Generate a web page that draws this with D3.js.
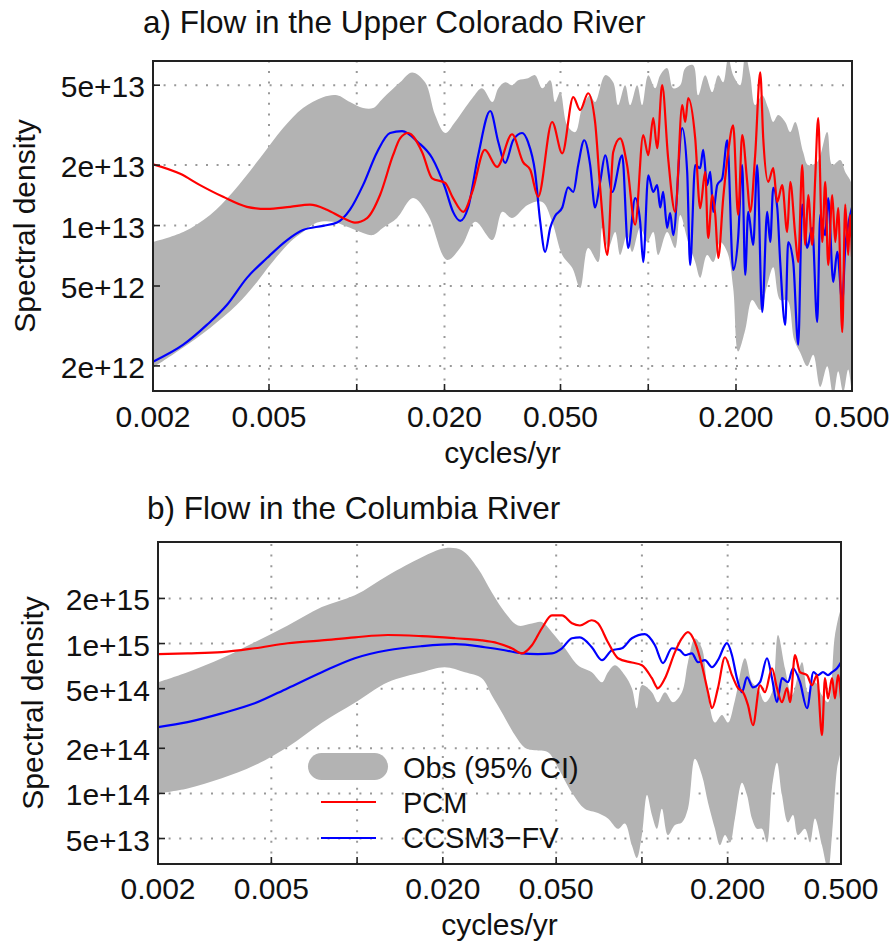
<!DOCTYPE html>
<html>
<head>
<meta charset="utf-8">
<script src="https://cdn.jsdelivr.net/npm/d3@7"></script>
<style>
  body { margin: 0; background: #fff; }
  svg text { font-family: "Liberation Sans", Arial, sans-serif; fill: #111; }
</style>
</head>
<body>
<svg id="chart" width="894" height="947"></svg>
<script>
// shared frequency axis (cycles/yr)
var xTicks = [0.002, 0.005, 0.01, 0.02, 0.05, 0.1, 0.2, 0.5];
var xTickLabels = ["0.002", "0.005", "", "0.020", "0.050", "", "0.200", "0.500"];

// a) Upper Colorado -- spectral density given in units of 1e12
var coloradoUnit = 1e12;
var coloradoYTicks = [2, 5, 10, 20, 50];
var coloradoYLabels = ["2e+12", "5e+12", "1e+13", "2e+13", "5e+13"];

var coloradoUpper = [[0.00200,8.28],[0.00254,9.29],[0.00314,11.3],[0.00376,14.7],[0.00466,21.7],[0.00559,30.6],[0.00654,38.5],[0.00766,43.6],[0.00856,44.6],[0.00948,41.2],[0.01051,38.5],[0.01138,38.5],[0.01231,43.1],[0.01408,51.7],[0.01548,57.9],[0.01716,51.7],[0.01857,35.5],[0.0201,28.9],[0.02174,32.8],[0.0249,43.1],[0.0269,48.3],[0.0292,41.2],[0.0306,48.3],[0.0323,51.7],[0.0341,50],[0.0358,52.9],[0.0387,54.2],[0.0409,56.1],[0.0433,48.3],[0.0461,52.9],[0.0479,41.2],[0.0499,46.2],[0.0527,31.6],[0.0562,29.2],[0.0593,38.5],[0.0632,44.6],[0.0657,41.2],[0.0712,56.1],[0.0758,51.7],[0.0788,39.8],[0.0833,50],[0.0867,39.8],[0.0916,50],[0.0953,39.8],[0.1000,56.1],[0.1056,48.3],[0.1099,56.1],[0.1161,60.8],[0.1218,48.3],[0.1287,50],[0.1339,60.8],[0.1426,62.9],[0.1483,44.6],[0.1568,56.1],[0.1658,46.2],[0.1738,56.1],[0.1808,51.7],[0.1880,68.3],[0.1956,56.1],[0.2067,50],[0.2151,70.5],[0.2237,56.1],[0.2327,39.8],[0.2460,44.6],[0.2579,38.5],[0.2684,32.8],[0.2791,35.5],[0.2950,32.8],[0.3069,29.2],[0.3193,32.8],[0.3401,23.2],[0.3537,20.0],[0.3798,20.7],[0.4111,29.2],[0.4278,20.0],[0.4556,21.2],[0.4740,18.5],[0.5,15.9]];

var coloradoLower = [[0.00200,1.96],[0.00254,2.47],[0.00314,3.09],[0.00388,4.03],[0.00455,5.24],[0.00504,6.36],[0.00591,8.28],[0.00654,9.29],[0.00731,10.35],[0.00829,10.45],[0.00948,9.74],[0.01051,9.18],[0.01138,8.97],[0.01231,9.74],[0.01375,10.9],[0.01560,13.7],[0.01756,11.3],[0.0204,6.74],[0.0230,8.0],[0.0255,10.45],[0.0292,8.47],[0.0316,11.7],[0.0341,10.9],[0.0387,12.7],[0.0433,13.1],[0.0468,10.45],[0.0507,7.14],[0.0549,6.15],[0.0584,4.89],[0.0622,7.73],[0.0673,6.58],[0.0695,9.74],[0.0729,7.73],[0.0770,9.29],[0.0801,7.14],[0.0846,8.97],[0.0881,7.39],[0.0938,9.74],[0.0992,8.28],[0.1040,9.29],[0.1082,7.14],[0.1161,9.29],[0.1237,7.73],[0.1287,11.3],[0.1371,8.28],[0.1449,6.58],[0.1507,5.49],[0.1592,7.14],[0.1671,6.58],[0.1765,8.28],[0.1866,7.39],[0.1956,4.89],[0.2034,2.36],[0.2151,3.02],[0.2273,4.26],[0.2422,3.80],[0.2559,5.06],[0.2684,6.2],[0.2836,4.26],[0.2997,4.26],[0.3168,2.70],[0.3321,2.33],[0.3510,1.99],[0.3681,2.27],[0.3890,1.57],[0.4111,1.99],[0.4312,1.43],[0.4484,1.88],[0.4666,1.48],[0.4852,1.92],[0.5,1.52]];

var coloradoPCM = [[0.00200,20.2],[0.00248,18.1],[0.00290,15.9],[0.00348,13.9],[0.00420,12.4],[0.00492,12.1],[0.00591,12.4],[0.00691,12.7],[0.00790,12.0],[0.00897,10.9],[0.00986,10.35],[0.01085,10.9],[0.01202,14.2],[0.01332,22.4],[0.01408,27.2],[0.0150,28.9],[0.01676,23.2],[0.01814,17.2],[0.0201,16.3],[0.0214,13.7],[0.0232,11.7],[0.0249,14.7],[0.0275,23.8],[0.0303,19.6],[0.0341,28.5],[0.0372,20.7],[0.0394,18.9],[0.0419,13.9],[0.0468,32.8],[0.0507,22.9],[0.0553,43.6],[0.0584,37.6],[0.0622,45.6],[0.0657,32.8],[0.0684,15.4],[0.0724,7.14],[0.0758,23.2],[0.0801,27.2],[0.0846,20.0],[0.0902,10.1],[0.0961,28.2],[0.1000,22.4],[0.1040,34.3],[0.1073,24.3],[0.1116,50],[0.1170,21.7],[0.1237,11.7],[0.1308,39.8],[0.1339,32.8],[0.1371,43.1],[0.1449,27.2],[0.1507,12.2],[0.1568,18.5],[0.1605,8.67],[0.1658,14.2],[0.1698,11.3],[0.1738,6.9],[0.1808,13.7],[0.1880,23.2],[0.1956,31.6],[0.2034,11.3],[0.2100,28.2],[0.2185,16.5],[0.2237,11.7],[0.2327,22.4],[0.2422,58.0],[0.2480,27.2],[0.2579,16.5],[0.2684,19.3],[0.2770,13.1],[0.2881,15.9],[0.2997,9.29],[0.3069,16.5],[0.3193,8.97],[0.3269,6.58],[0.3374,20.0],[0.3455,8.0],[0.3537,14.2],[0.3652,8.0],[0.3739,17.2],[0.3828,34.3],[0.3953,8.28],[0.4047,16.5],[0.4143,6.36],[0.4278,14.2],[0.4380,8.28],[0.4484,12.2],[0.4629,2.95],[0.4740,12.7],[0.4852,7.14],[0.4922,11.3],[0.5,7.0]];

var coloradoCCSM = [[0.00200,2.10],[0.00254,2.55],[0.00306,3.20],[0.00359,4.03],[0.00420,5.49],[0.00492,6.89],[0.00577,8.47],[0.00654,9.5],[0.00766,9.97],[0.00856,10.35],[0.00948,12.0],[0.01051,15.9],[0.01174,23.2],[0.01301,28.9],[0.01431,29.5],[0.01623,26.0],[0.01814,21.7],[0.0201,15.4],[0.0214,11.7],[0.02265,10.55],[0.0241,12.3],[0.0261,22.4],[0.0287,37.2],[0.0306,26.0],[0.0323,20.5],[0.0344,26.6],[0.0369,28.9],[0.0387,26.0],[0.0409,18.5],[0.0426,10.45],[0.0443,7.39],[0.0461,9.74],[0.0479,11.15],[0.0507,12.3],[0.0531,15.5],[0.0553,14.7],[0.0575,20.0],[0.0603,26.6],[0.0632,20.0],[0.0657,12.3],[0.0684,16.5],[0.0712,22.4],[0.0752,14.7],[0.0814,22.4],[0.0853,7.73],[0.0902,13.7],[0.0938,10.45],[0.0961,6.58],[0.1000,17.8],[0.1040,14.7],[0.1073,15.9],[0.1099,12.3],[0.1125,14.7],[0.1161,9.74],[0.1189,11.55],[0.1218,8.97],[0.1308,30.6],[0.1360,18.5],[0.1392,6.36],[0.1449,20.0],[0.1507,19.3],[0.1543,23.8],[0.1592,15.9],[0.1632,18.5],[0.1671,11.7],[0.1724,15.9],[0.1794,17.2],[0.1866,26.6],[0.1956,6.01],[0.2034,8.67],[0.2100,20.0],[0.2151,5.68],[0.2202,11.7],[0.2291,8.0],[0.2364,20.0],[0.2460,3.71],[0.2559,11.7],[0.2621,8.28],[0.2684,15.4],[0.2770,12.3],[0.2836,6.58],[0.2950,3.20],[0.3020,8.28],[0.3143,6.58],[0.3269,2.55],[0.3374,12.7],[0.3510,7.73],[0.3652,9.74],[0.3798,3.31],[0.3890,11.3],[0.4047,8.97],[0.4143,13.7],[0.4312,5.24],[0.4450,7.39],[0.4629,4.16],[0.4740,7.73],[0.4852,10.1],[0.5,12.3]];

// b) Columbia -- spectral density given in units of 1e14
var columbiaUnit = 1e14;
var columbiaYTicks = [0.5, 1, 2, 5, 10, 20];
var columbiaYLabels = ["5e+13", "1e+14", "2e+14", "5e+14", "1e+15", "2e+15"];

var columbiaUpper = [[0.00200,5.52],[0.00254,6.44],[0.00335,7.98],[0.00437,10.2],[0.00571,13.2],[0.00752,17.5],[0.00982,21.0],[0.01282,28.5],[0.01688,37.7],[0.0203,43.3],[0.0233,41.9],[0.0265,31.9],[0.0297,22.0],[0.0330,16.2],[0.0367,13.2],[0.0411,13.6],[0.0445,13.9],[0.0483,11.9],[0.0537,9.3],[0.0596,7.17],[0.0667,6.44],[0.0724,5.52],[0.0760,6.44],[0.0804,7.17],[0.0871,6.15],[0.0922,5.04],[0.0960,3.7],[0.1000,5.27],[0.1084,4.74],[0.1138,4.06],[0.1205,4.74],[0.1285,4.06],[0.1382,4.74],[0.1451,7.5],[0.1535,10.8],[0.1624,9.3],[0.1706,4.52],[0.1805,2.97],[0.1910,3.33],[0.2005,2.97],[0.2121,4.19],[0.2300,7.98],[0.2434,5.52],[0.2556,5.04],[0.2704,4.06],[0.2862,4.74],[0.3004,11.4],[0.3179,6.84],[0.3364,4.52],[0.3648,7.5],[0.3830,4.74],[0.4052,5.52],[0.4287,4.52],[0.4502,4.06],[0.4763,11.4],[0.5,16.7]];

var columbiaLower = [[0.00200,1.0],[0.00254,1.08],[0.00335,1.26],[0.00437,1.54],[0.00571,2.04],[0.00752,2.96],[0.00982,4.02],[0.01282,5.52],[0.01688,6.44],[0.0203,6.95],[0.0239,6.44],[0.0274,5.87],[0.0297,4.52],[0.0322,3.48],[0.0358,2.45],[0.0388,2.02],[0.0421,1.94],[0.0468,1.88],[0.0507,1.49],[0.0568,1.01],[0.0630,0.79],[0.0701,0.74],[0.0760,0.68],[0.0824,0.58],[0.0871,0.63],[0.0922,0.45],[0.0960,0.37],[0.1000,0.527],[0.1042,0.974],[0.1084,0.717],[0.1129,0.58],[0.1175,0.79],[0.1234,0.527],[0.1306,0.615],[0.1382,0.64],[0.1451,0.79],[0.1535,1.70],[0.1624,1.32],[0.1706,0.87],[0.1805,0.58],[0.1879,0.45],[0.1957,0.527],[0.2038,0.47],[0.2121,0.68],[0.2245,1.18],[0.2338,0.974],[0.2434,0.68],[0.2535,0.58],[0.2640,0.58],[0.2749,0.47],[0.2862,1.09],[0.2980,1.60],[0.3102,0.974],[0.3258,0.64],[0.3392,0.717],[0.3532,0.527],[0.3737,0.58],[0.3892,0.47],[0.4052,0.68],[0.4287,0.45],[0.4502,0.31],[0.4650,0.527],[0.4842,1.46],[0.5,2.02]];

var columbiaPCM = [[0.00200,8.5],[0.00254,8.6],[0.00335,8.76],[0.00437,9.3],[0.00571,10.05],[0.00752,10.5],[0.00982,11.0],[0.01282,11.4],[0.01688,11.2],[0.0221,10.85],[0.0245,10.7],[0.0274,10.5],[0.0312,10.05],[0.0349,9.3],[0.0379,8.6],[0.0411,9.74],[0.0445,12.6],[0.0483,15.4],[0.0524,15.4],[0.0568,13.65],[0.0606,13.2],[0.0667,14.3],[0.0701,13.65],[0.0760,10.2],[0.0824,7.98],[0.0922,7.47],[0.1000,7.17],[0.1084,5.87],[0.1138,5.04],[0.1205,5.87],[0.1306,8.76],[0.1382,10.85],[0.1451,11.9],[0.1535,10.2],[0.1624,7.17],[0.1706,4.74],[0.1762,3.7],[0.1849,5.04],[0.1957,8.1],[0.2071,6.15],[0.2174,5.04],[0.2263,4.74],[0.2357,3.88],[0.2454,2.85],[0.2598,5.27],[0.2704,4.74],[0.2862,6.84],[0.2980,5.04],[0.3102,4.06],[0.3232,5.04],[0.3311,4.06],[0.3447,8.36],[0.3589,6.44],[0.3799,6.15],[0.3955,5.27],[0.4118,6.15],[0.4287,2.45],[0.4393,5.87],[0.4502,4.31],[0.4650,5.87],[0.4763,4.31],[0.4881,6.15],[0.5,4.31]];

var columbiaCCSM = [[0.00200,2.77],[0.00254,2.99],[0.00335,3.42],[0.00437,3.99],[0.00571,5.04],[0.00752,6.44],[0.00982,7.98],[0.01282,9.02],[0.01688,9.6],[0.0221,9.9],[0.0281,9.45],[0.0330,9.02],[0.0379,8.6],[0.0431,8.5],[0.0483,8.6],[0.0524,9.3],[0.0568,10.85],[0.0606,11.0],[0.0667,9.45],[0.0724,7.74],[0.0785,9.02],[0.0851,9.3],[0.0922,10.85],[0.1025,11.55],[0.1111,9.74],[0.1186,7.4],[0.1274,9.3],[0.1360,9.02],[0.1416,8.36],[0.1498,8.6],[0.1573,7.5],[0.1665,7.74],[0.1762,6.95],[0.1849,7.74],[0.1989,10.05],[0.2071,8.36],[0.2156,5.87],[0.2245,4.74],[0.2338,5.96],[0.2454,5.1],[0.2598,5.52],[0.2749,7.98],[0.2862,5.87],[0.2980,4.06],[0.3102,5.87],[0.3258,5.52],[0.3392,6.84],[0.3589,5.52],[0.3799,3.7],[0.4002,6.44],[0.4152,6.15],[0.4322,6.44],[0.4502,6.15],[0.4650,6.44],[0.4842,6.84],[0.5,7.5]];

var legendLabels = ["Obs (95% CI)", "PCM", "CCSM3\u2212FV"];

var svg = d3.select("#chart");

function drawPanel(p) {
    var x = d3.scaleLog().domain([0.002, 0.5]).range([p.left, p.right]);
    var y = d3.scaleLog().domain(p.yDomain).range([p.bottom, p.top]);
    var g = svg.append("g");

    g.append("clipPath").attr("id", p.id + "-clip")
        .append("rect")
        .attr("x", p.left).attr("y", p.top)
        .attr("width", p.right - p.left).attr("height", p.bottom - p.top);

    // dotted grid
    var grid = g.append("g")
        .attr("stroke", "#999").attr("stroke-width", 2)
        .attr("stroke-dasharray", "2,8.6");
    xTicks.slice(1, -1).forEach(function (t) {
        grid.append("line")
            .attr("x1", x(t)).attr("x2", x(t))
            .attr("y1", p.bottom).attr("y2", p.top);
    });
    p.yTicks.forEach(function (t) {
        grid.append("line")
            .attr("x1", p.left).attr("x2", p.right)
            .attr("y1", y(t * p.unit)).attr("y2", y(t * p.unit));
    });

    // band outline goes both ways, so it needs a direction-free curve
    var bandLine = d3.line()
        .x(function (d) { return x(d[0]); })
        .y(function (d) { return y(d[1] * p.unit); })
        .curve(d3.curveCatmullRom.alpha(0.5));
    var line = d3.line()
        .x(function (d) { return x(d[0]); })
        .y(function (d) { return y(d[1] * p.unit); })
        .curve(d3.curveMonotoneX);

    var plot = g.append("g").attr("clip-path", "url(#" + p.id + "-clip)");

    // 95% confidence band: upper edge then lower edge backwards
    plot.append("path")
        .attr("d", bandLine(p.upper.concat(p.lower.slice().reverse())) + "Z")
        .attr("fill", "#b3b3b3");

    plot.append("path").attr("d", line(p.ccsm))
        .attr("fill", "none").attr("stroke", "#0000ff").attr("stroke-width", 2.2);
    plot.append("path").attr("d", line(p.pcm))
        .attr("fill", "none").attr("stroke", "#ff0000").attr("stroke-width", 2.2);

    // frame and inward ticks
    g.append("rect")
        .attr("x", p.left).attr("y", p.top)
        .attr("width", p.right - p.left).attr("height", p.bottom - p.top)
        .attr("fill", "none").attr("stroke", "#222").attr("stroke-width", 2);

    xTicks.forEach(function (t, i) {
        g.append("line")
            .attr("x1", x(t)).attr("x2", x(t))
            .attr("y1", p.bottom).attr("y2", p.bottom - 7)
            .attr("stroke", "#222").attr("stroke-width", 1.6);
        g.append("text")
            .attr("x", x(t)).attr("y", p.xLabelY)
            .attr("text-anchor", "middle").attr("font-size", 30)
            .text(xTickLabels[i]);
    });
    p.yTicks.forEach(function (t, i) {
        var yy = y(t * p.unit);
        g.append("line")
            .attr("x1", p.left).attr("x2", p.left + 7)
            .attr("y1", yy).attr("y2", yy)
            .attr("stroke", "#222").attr("stroke-width", 1.6);
        g.append("text")
            .attr("x", p.yLabelX).attr("y", yy).attr("dy", "0.4em")
            .attr("text-anchor", "end").attr("font-size", 30)
            .text(p.yLabels[i]);
    });

    g.append("text")
        .attr("x", (p.left + p.right) / 2).attr("y", p.xTitleY)
        .attr("text-anchor", "middle").attr("font-size", 30)
        .text("cycles/yr");
    g.append("text")
        .attr("transform", "translate(" + p.yTitleX + "," + (p.top + p.bottom) / 2 + ") rotate(-90)")
        .attr("text-anchor", "middle").attr("font-size", 30)
        .text("Spectral density");
    g.append("text")
        .attr("x", p.titleX).attr("y", p.titleY)
        .attr("font-size", 31.5)
        .text(p.title);
    return g;
}

drawPanel({
    id: "colorado", title: "a) Flow in the Upper Colorado River",
    left: 153, right: 852, top: 61, bottom: 391,
    yDomain: [1.5e12, 6.6e13], unit: coloradoUnit,
    yTicks: coloradoYTicks, yLabels: coloradoYLabels,
    upper: coloradoUpper, lower: coloradoLower, pcm: coloradoPCM, ccsm: coloradoCCSM,
    xLabelY: 427, xTitleY: 463, yLabelX: 145, yTitleX: 35, titleX: 143, titleY: 33
});

var gb = drawPanel({
    id: "columbia", title: "b) Flow in the Columbia River",
    left: 158, right: 841, top: 542, bottom: 864,
    yDomain: [3.38e13, 4.76e15], unit: columbiaUnit,
    yTicks: columbiaYTicks, yLabels: columbiaYLabels,
    upper: columbiaUpper, lower: columbiaLower, pcm: columbiaPCM, ccsm: columbiaCCSM,
    xLabelY: 899, xTitleY: 935, yLabelX: 150, yTitleX: 43, titleX: 147, titleY: 519
});

// legend (panel b)
var leg = gb.append("g");
leg.append("rect").attr("x", 308).attr("y", 753).attr("width", 80).attr("height", 27)
    .attr("rx", 13.5).attr("fill", "#b3b3b3");
leg.append("line").attr("x1", 321).attr("x2", 376).attr("y1", 802).attr("y2", 802)
    .attr("stroke", "#ff0000").attr("stroke-width", 2.2);
leg.append("line").attr("x1", 321).attr("x2", 376).attr("y1", 838).attr("y2", 838)
    .attr("stroke", "#0000ff").attr("stroke-width", 2.2);
[778, 813, 848].forEach(function (yy, i) {
    leg.append("text").attr("x", 403).attr("y", yy)
        .attr("font-size", 29).text(legendLabels[i]);
});
</script>
</body>
</html>
